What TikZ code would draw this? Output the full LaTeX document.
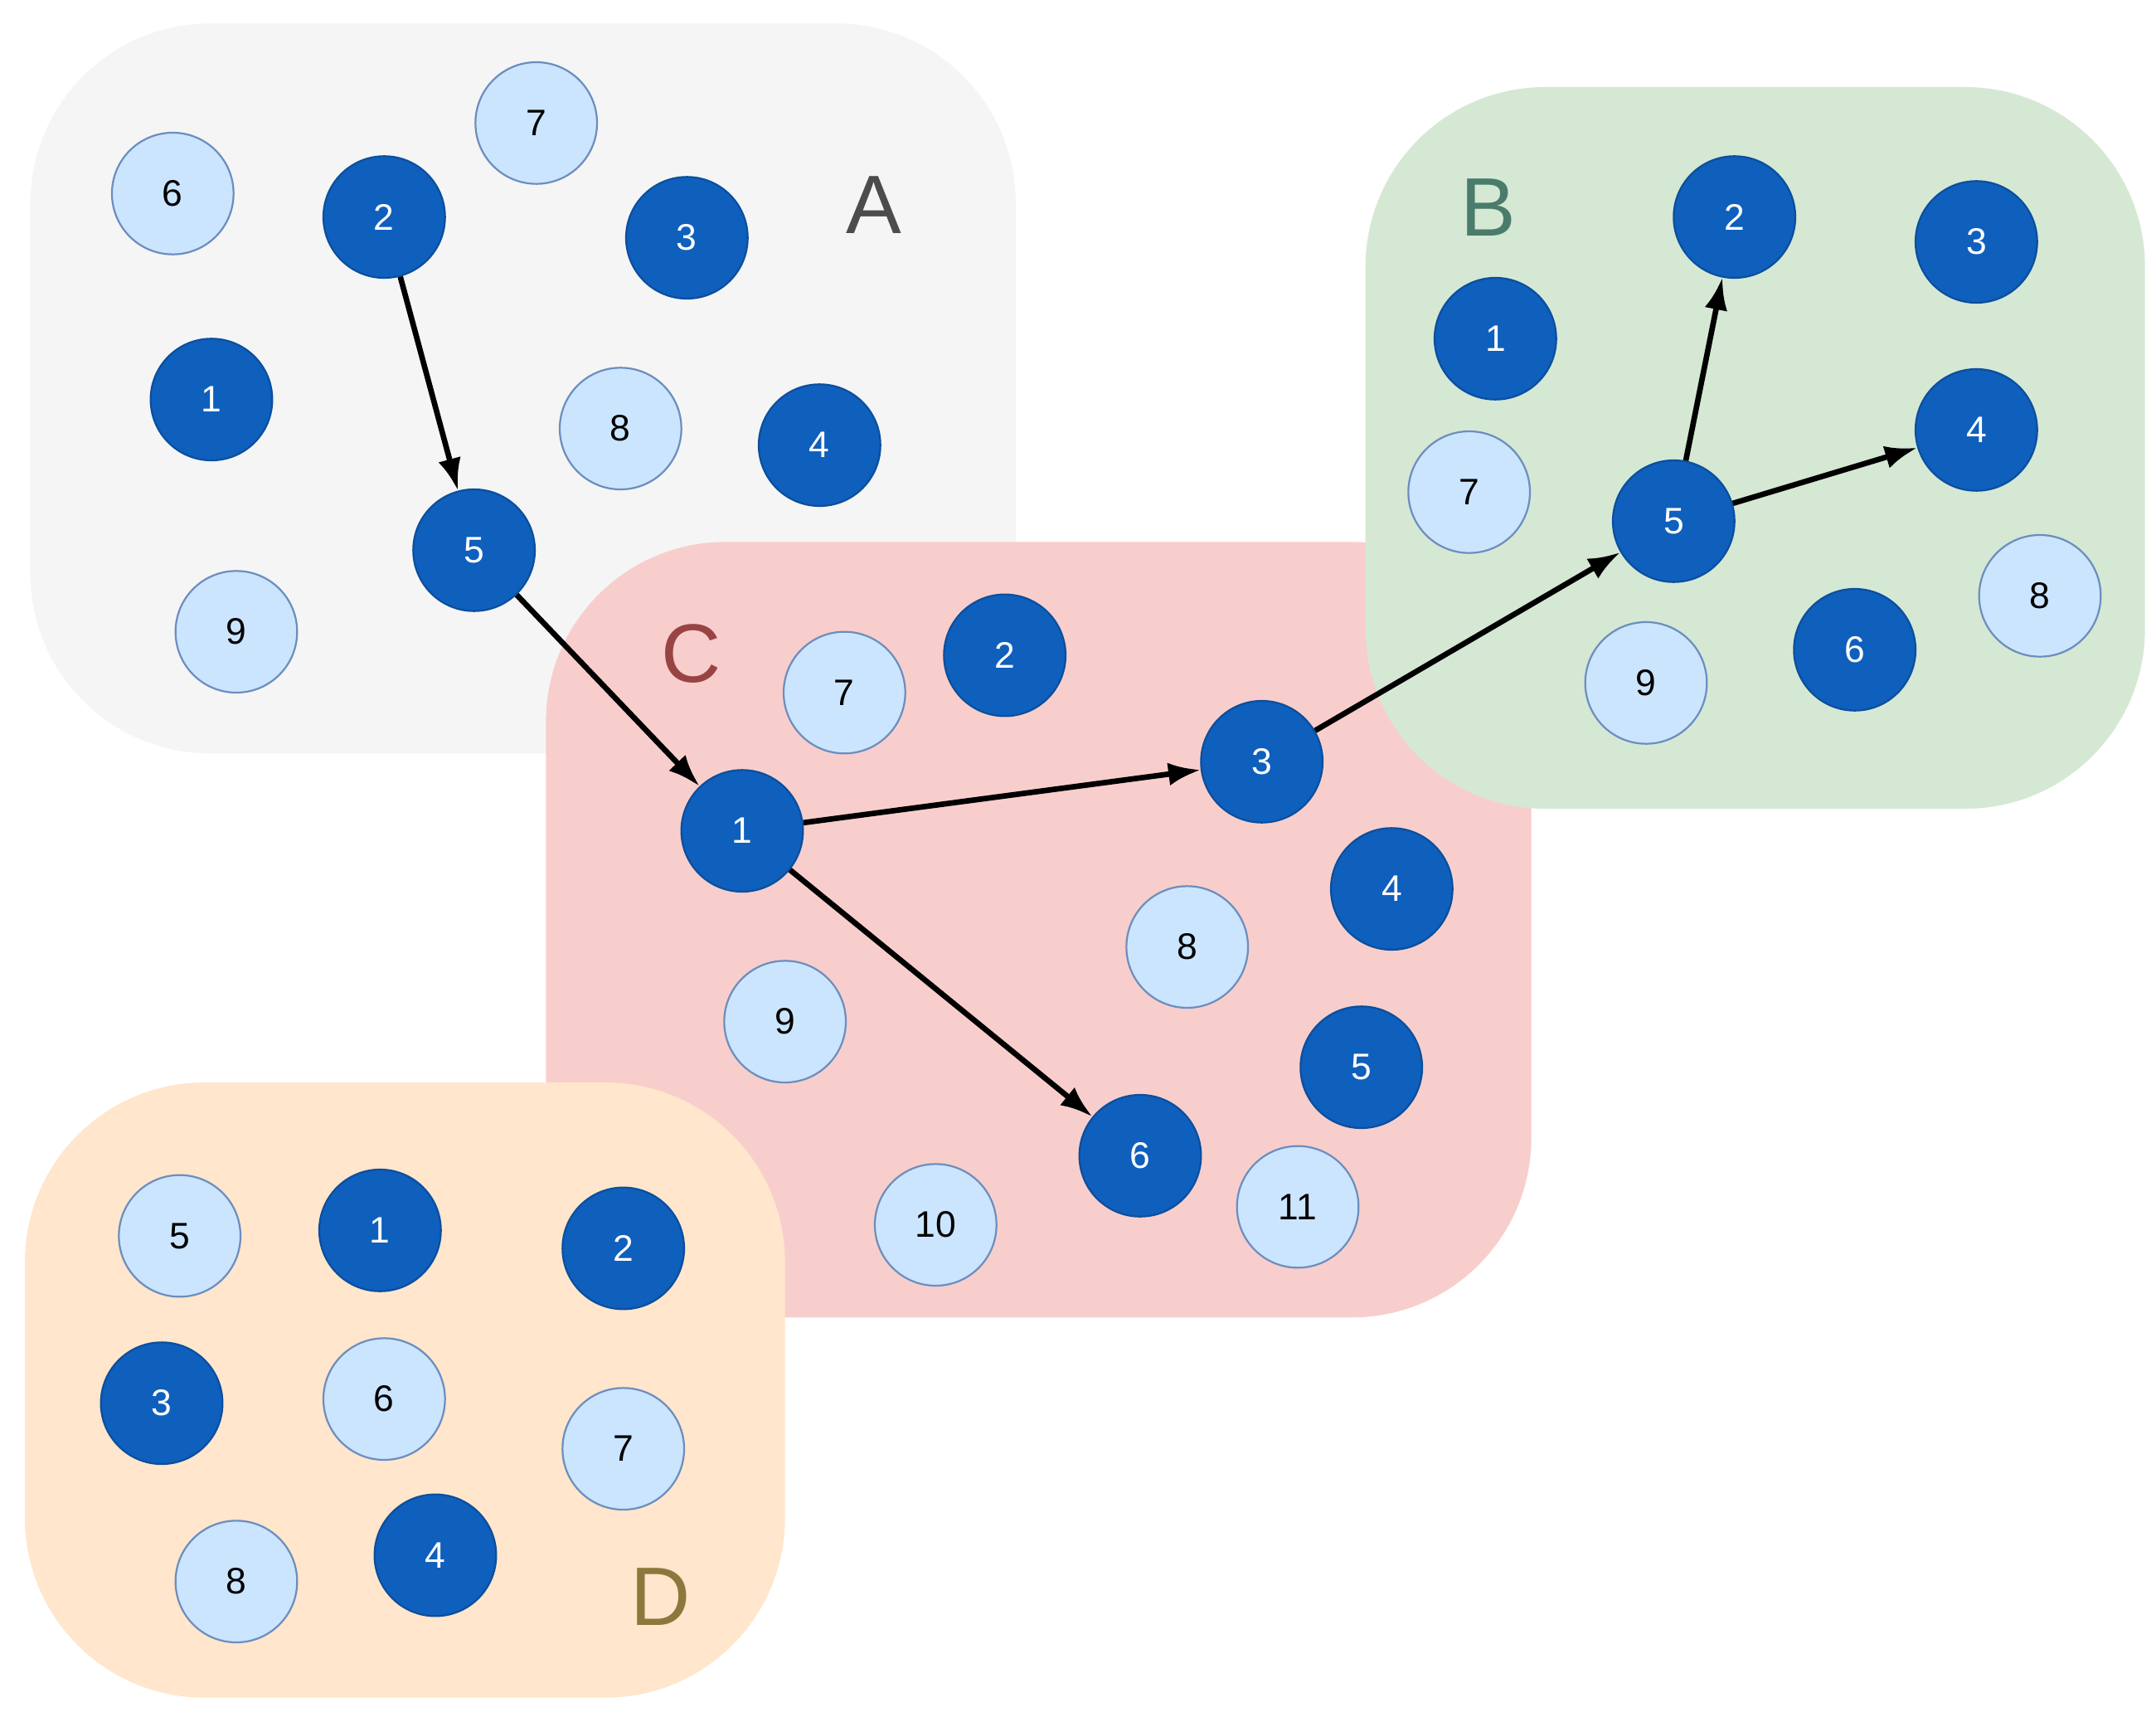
\documentclass[tikz,border=0pt]{standalone}
\usepackage{fontspec}
\setmainfont{Liberation Sans}
\usetikzlibrary{arrows.meta}
\definecolor{lf}{HTML}{CCE5FF}\definecolor{ld}{HTML}{6C8EBF}
\definecolor{df}{HTML}{0F5FBD}\definecolor{dd}{HTML}{0B4F9E}
\begin{document}
\begin{tikzpicture}[x=0.6pt,y=-0.6pt,
 L/.style={circle,minimum size=52.8pt,inner sep=0pt,fill=lf,draw=ld,line width=0.8pt,font=\fontsize{16}{16}\selectfont},
 D/.style={circle,minimum size=52.8pt,inner sep=0pt,fill=df,draw=dd,line width=0.8pt,text=white,font=\fontsize{16}{16}\selectfont},
 reg/.style={rounded corners=78pt},
 lab/.style={font=\fontsize{36}{36}\selectfont},
 e/.style={-{Latex[length=14pt,width=10pt]},line width=2.4pt}]
\useasboundingbox (0,0) rectangle (1560,1242);
\fill[reg,fill=black!4] (22,17) rectangle (735,545);
\fill[reg,fill={rgb,255:red,248;green,206;blue,204}] (395,392) rectangle (1108,953);
\fill[reg,fill={rgb,255:red,213;green,232;blue,212}] (988,63) rectangle (1552,585);
\fill[reg,fill={rgb,255:red,255;green,230;blue,204}] (18,783) rectangle (568,1228);
\node[lab,text=black!70] (lA) at (632,148) {A};
\node[lab,text={rgb,255:red,74;green,124;blue,107}] (lB) at (1077,150) {B};
\node[lab,text={rgb,255:red,153;green,68;blue,68}] (lC) at (500,473) {C};
\node[lab,text={rgb,255:red,140;green,120;blue,60}] (lD) at (478,1155) {D};
% A
\node[L] (a6) at (125,140) {6}; \node[D] (a2) at (278,157) {2};
\node[L] (a7) at (388,89) {7}; \node[D] (a3) at (497,172) {3};
\node[D] (a1) at (153,289) {1}; \node[L] (a8) at (449,310) {8};
\node[D] (a4) at (593,322) {4}; \node[D] (a5) at (343,398) {5};
\node[L] (a9) at (171,457) {9};
% B
\node[D] (b2) at (1255,157) {2}; \node[D] (b3) at (1430,175) {3};
\node[D] (b1) at (1082,245) {1}; \node[L] (b7) at (1063,356) {7};
\node[D] (b5) at (1211,377) {5}; \node[D] (b4) at (1430,311) {4};
\node[L] (b9) at (1191,494) {9}; \node[D] (b6) at (1342,470) {6};
\node[L] (b8) at (1476,431) {8};
% C
\node[L] (c7) at (611,501) {7}; \node[D] (c2) at (727,474) {2};
\node[D] (c1) at (537,601) {1}; \node[D] (c3) at (913,551) {3};
\node[D] (c4) at (1007,643) {4}; \node[L] (c8) at (859,685) {8};
\node[L] (c9) at (568,739) {9}; \node[D] (c5) at (985,772) {5};
\node[D] (c6) at (825,836) {6}; \node[L] (c10) at (677,886) {10};
\node[L] (c11) at (939,873) {11};
% D
\node[L] (d5) at (130,894) {5}; \node[D] (d1) at (275,890) {1};
\node[D] (d2) at (451,903) {2}; \node[D] (d3) at (117,1015) {3};
\node[L] (d6) at (278,1012) {6}; \node[L] (d7) at (451,1048) {7};
\node[L] (d8) at (171,1144) {8}; \node[D] (d4) at (315,1125) {4};
\draw[e] (a2) -- (a5); \draw[e] (a5) -- (c1);
\draw[e] (c1) -- (c3); \draw[e] (c1) -- (c6);
\draw[e] (c3) -- (b5); \draw[e] (b5) -- (b2); \draw[e] (b5) -- (b4);
\end{tikzpicture}
\end{document}
